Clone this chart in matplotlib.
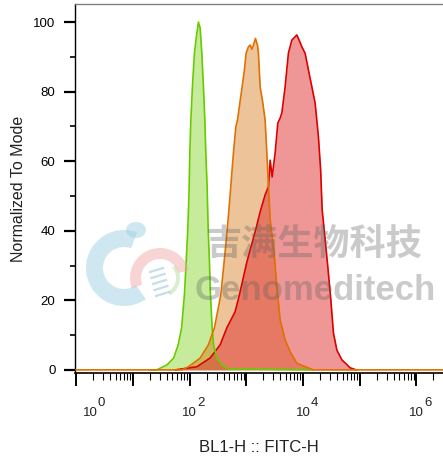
import numpy as np
import matplotlib
matplotlib.use("Agg")
import matplotlib.pyplot as plt
from matplotlib.patches import Wedge, Ellipse
from matplotlib.ticker import FixedLocator, NullFormatter

plt.rcParams['font.family'] = ['Liberation Sans', 'Noto Sans CJK SC', 'DejaVu Sans']

# ---- data (log10 of BL1-H :: FITC-H, normalized to mode) ----
green_log = [1.30, 1.42, 1.60, 1.72, 1.80, 1.86, 1.91, 1.94, 1.97, 1.99, 2.005, 2.023, 2.051,
             2.086, 2.125, 2.157, 2.187, 2.217, 2.245, 2.270, 2.287, 2.310, 2.328, 2.351, 2.369,
             2.399, 2.422, 2.481, 2.570, 2.681, 4.18]
green_val = [0, 0, 1.4, 3.4, 7.2, 12.1, 21.6, 31.0, 40.8, 50.3, 62.4, 71.8, 81.4,
             91.0, 96.3, 100, 98.3, 91.0, 81.4, 71.8, 62.4, 52.7, 40.8, 31.0, 21.6,
             12.1, 7.2, 3.4, 1.4, 0.3, 0]

orange_log = [0.0, 1.70, 1.864, 1.981, 2.187, 2.333, 2.439, 2.552, 2.610, 2.668, 2.716, 2.774,
              2.817, 2.845, 2.928, 2.968, 2.998, 3.039, 3.069, 3.099, 3.122, 3.162, 3.198,
              3.215, 3.245, 3.293, 3.333, 3.363, 3.392, 3.422, 3.492, 3.540, 3.598, 3.686,
              3.774, 3.892, 4.180, 6.5]
orange_val = [0, 0, 0, 0.9, 3.4, 7.2, 12.1, 21.6, 31.0, 40.8, 50.3, 62.4,
              69.9, 71.8, 81.4, 86.2, 91.1, 92.9, 93.4, 92.2, 93.1, 95.3, 93.4,
              91.0, 81.4, 76.7, 71.8, 62.4, 52.7, 43.1, 33.6, 23.9, 14.4, 8.6,
              5.2, 1.9, 0, 0]

red_log = [1.75, 2.129, 2.363, 2.540, 2.658, 2.804, 2.880, 3.011, 3.175, 3.245, 3.333, 3.392,
           3.422, 3.457, 3.510, 3.557, 3.598, 3.628, 3.686, 3.744, 3.804, 3.892, 3.933, 3.981,
           4.039, 4.097, 4.157, 4.215, 4.273, 4.312, 4.339, 4.392, 4.444, 4.492, 4.538, 4.598,
           4.686, 4.832, 4.938]
red_val = [0, 0.9, 3.4, 7.2, 12.1, 16.7, 21.6, 31.0, 40.8, 45.4, 50.3, 52.7,
           60.3, 55.5, 62.4, 71.0, 72.4, 73.9, 81.4, 91.1, 94.8, 96.3, 94.8, 92.9,
           91.0, 86.2, 81.4, 76.7, 67.0, 57.5, 46.0, 37.4, 28.7, 20.1, 10.6, 5.7,
           2.9, 0.6, 0]

y_ticks = [0, 20, 40, 60, 80, 100]
x_decades = [0, 2, 4, 6]

W, H = 443, 457
fig = plt.figure(figsize=(W / 100, H / 100), dpi=100)
ax = fig.add_axes([75 / W, (H - 373) / H, 1 - 75 / W, (373 - 4) / H])

series = [
    (green_log, green_val, (0.50, 0.83, 0.13), 0.45, '#66cc00'),
    (orange_log, orange_val, (0.83, 0.41, 0.0), 0.40, '#e07000'),
    (red_log, red_val, (0.87, 0.19, 0.18), 0.50, '#dd0000'),
]
for lg, v, fc, a, lc in series:
    x = 10 ** np.array(lg)
    ax.fill_between(x, 0, v, color=fc, alpha=a, linewidth=0, zorder=2)
for idx in [2, 0, 1]:
    lg, v, fc, a, lc = series[idx]
    ax.plot(10 ** np.array(lg), v, color=lc, lw=1.2, zorder=3, solid_joinstyle='round')

ax.set_xscale('log')
ax.set_xlim(10 ** -0.02, 10 ** 6.47)
ax.set_ylim(-0.9, 105.2)

ax.xaxis.set_major_locator(FixedLocator([10.0 ** k for k in range(0, 7)]))
minors = [m * 10.0 ** k for k in range(0, 7) for m in range(2, 10)]
ax.xaxis.set_minor_locator(FixedLocator(minors))
ax.xaxis.set_major_formatter(NullFormatter())
ax.xaxis.set_minor_formatter(NullFormatter())
ax.tick_params(axis='x', which='major', length=9, width=1.4, direction='out', color='black')
ax.tick_params(axis='x', which='minor', length=5, width=0.8, direction='out', color='black')

ax.set_yticks(y_ticks)
ax.set_yticks([10, 30, 50, 70, 90], minor=True)
ax.tick_params(axis='y', which='major', length=8, width=1.6, direction='out', pad=6, labelsize=9.5)
ax.tick_params(axis='y', which='minor', length=3.5, width=1.2, direction='out')

for k in x_decades:
    dx = 10 if k == 0 else 0
    ax.annotate('10', xy=(10.0 ** k, 0), xycoords=('data', 'axes fraction'),
                xytext=(dx, -28.5), textcoords='offset points', ha='center', va='center',
                fontsize=9.5, color='#222222')
    ax.annotate(str(k), xy=(10.0 ** k, 0), xycoords=('data', 'axes fraction'),
                xytext=(dx + 5.5, -21.5), textcoords='offset points', ha='left', va='center',
                fontsize=9.5, color='#222222')

ax.set_xlabel('BL1-H :: FITC-H', fontsize=12, labelpad=36, color='#222222')
ax.set_ylabel('Normalized To Mode', fontsize=11.5, labelpad=5, color='#222222')

ax.spines['right'].set_visible(False)
ax.spines['top'].set_color('#808080')
ax.spines['top'].set_linewidth(1.0)
ax.spines['left'].set_linewidth(1.0)
ax.spines['bottom'].set_linewidth(1.2)

# ---- watermark overlay (pixel coordinates, y up) ----
ov = fig.add_axes([0, 0, 1, 1], zorder=5)
ov.set_xlim(0, W)
ov.set_ylim(0, H)
ov.axis('off')
ov.patch.set_alpha(0)
ov.add_patch(Wedge((124, H - 268), 38, 70, 305, width=17, color='#9fd0e3', alpha=0.5, lw=0))
ov.add_patch(Ellipse((136, H - 230), 20, 16, color='#9fd0e3', alpha=0.5, lw=0))
ov.add_patch(Wedge((160, H - 278), 30, 15, 200, width=11, color='#f2a0a0', alpha=0.45, lw=0))
ov.add_patch(Wedge((160, H - 278), 20, -60, 40, width=4, color='#b8dca0', alpha=0.5, lw=0))
for i in range(5):
    yy = H - (272 + i * 6)
    ov.plot([150 + i * 1.5, 163 + i * 1.5], [yy, yy + 4], color='#9fc8e0', alpha=0.6, lw=1.6)
ov.text(314, H - 245, '吉满生物科技', fontsize=26, fontweight='bold', color='#606060', alpha=0.33,
        ha='center', va='center', family=['Noto Sans CJK SC', 'DejaVu Sans'])
ov.text(315, H - 291, 'Genomeditech', fontsize=25, fontweight='bold', color='#606060', alpha=0.33,
        ha='center', va='center', family=['Liberation Sans', 'DejaVu Sans'])

fig.savefig('out.png', dpi=100)
